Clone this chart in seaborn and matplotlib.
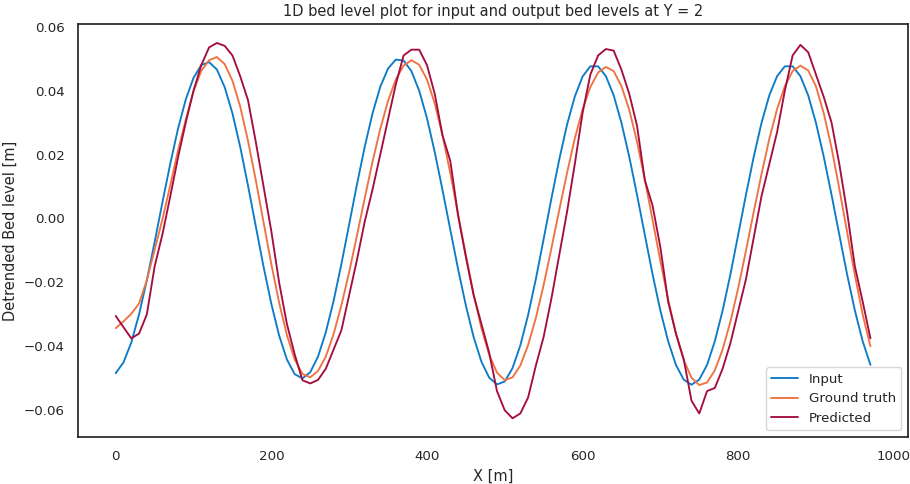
import numpy as np
import pandas as pd
import matplotlib
matplotlib.use("Agg")
import matplotlib.pyplot as plt
import seaborn as sns

x_m = list(range(0, 980, 10))

input_bed = [
    -0.0484, -0.0450, -0.0388, -0.0300, -0.0193, -0.0074, 0.0050, 0.0170, 0.0280, 0.0372,
    0.0440, 0.0480, 0.0489, 0.0466, 0.0411, 0.0329, 0.0224, 0.0103, -0.0024, -0.0151,
    -0.0267, -0.0366, -0.0441, -0.0487, -0.0500, -0.0481, -0.0432, -0.0356, -0.0258, -0.0143,
    -0.0019, 0.0106, 0.0224, 0.0328, 0.0412, 0.0469, 0.0497, 0.0494, 0.0461, 0.0400,
    0.0314, 0.0208, 0.0089, -0.0035, -0.0158, -0.0272, -0.0371, -0.0448, -0.0498, -0.0519,
    -0.0510, -0.0468, -0.0397, -0.0302, -0.0189, -0.0064, 0.0063, 0.0184, 0.0293, 0.0381,
    0.0444, 0.0476, 0.0476, 0.0445, 0.0385, 0.0299, 0.0193, 0.0074, -0.0051, -0.0175,
    -0.0288, -0.0384, -0.0458, -0.0504, -0.0520, -0.0504, -0.0458, -0.0384, -0.0288, -0.0175,
    -0.0051, 0.0074, 0.0193, 0.0299, 0.0385, 0.0445, 0.0476, 0.0476, 0.0445, 0.0385,
    0.0299, 0.0193, 0.0074, -0.0051, -0.0175, -0.0288, -0.0384, -0.0458,
]

ground_truth = [
    -0.0343, -0.0322, -0.0298, -0.0266, -0.0193, -0.0098, -0.0003, 0.0103, 0.0212, 0.0309,
    0.0398, 0.0462, 0.0495, 0.0505, 0.0483, 0.0431, 0.0350, 0.0243, 0.0120, -0.0012,
    -0.0143, -0.0263, -0.0365, -0.0441, -0.0486, -0.0497, -0.0477, -0.0432, -0.0362, -0.0272,
    -0.0168, -0.0054, 0.0063, 0.0177, 0.0280, 0.0368, 0.0435, 0.0478, 0.0495, 0.0481,
    0.0435, 0.0360, 0.0260, 0.0142, 0.0013, -0.0115, -0.0237, -0.0343, -0.0427, -0.0482,
    -0.0506, -0.0497, -0.0460, -0.0396, -0.0311, -0.0208, -0.0093, 0.0026, 0.0142, 0.0250,
    0.0341, 0.0411, 0.0457, 0.0474, 0.0461, 0.0414, 0.0340, 0.0240, 0.0122, -0.0005,
    -0.0133, -0.0254, -0.0360, -0.0443, -0.0498, -0.0521, -0.0513, -0.0475, -0.0410, -0.0323,
    -0.0218, -0.0101, 0.0021, 0.0139, 0.0249, 0.0342, 0.0414, 0.0461, 0.0478, 0.0463,
    0.0413, 0.0329, 0.0221, 0.0093, -0.0042, -0.0177, -0.0300, -0.0400,
]

predicted = [
    -0.0305, -0.0340, -0.0375, -0.0360, -0.0300, -0.0150, -0.0050, 0.0068, 0.0190, 0.0300,
    0.0400, 0.0480, 0.0535, 0.0549, 0.0540, 0.0510, 0.0445, 0.0370, 0.0240, 0.0100,
    -0.0040, -0.0200, -0.0330, -0.0425, -0.0506, -0.0516, -0.0505, -0.0470, -0.0410, -0.0350,
    -0.0240, -0.0130, -0.0010, 0.0090, 0.0200, 0.0310, 0.0420, 0.0510, 0.0528, 0.0528,
    0.0480, 0.0390, 0.0260, 0.0180, 0.0010, -0.0120, -0.0240, -0.0330, -0.0420, -0.0540,
    -0.0600, -0.0625, -0.0610, -0.0560, -0.0460, -0.0370, -0.0250, -0.0115, 0.0020, 0.0170,
    0.0330, 0.0450, 0.0510, 0.0530, 0.0525, 0.0465, 0.0390, 0.0290, 0.0120, 0.0040,
    -0.0090, -0.0260, -0.0360, -0.0440, -0.0570, -0.0610, -0.0540, -0.0530, -0.0470, -0.0390,
    -0.0290, -0.0190, -0.0060, 0.0070, 0.0170, 0.0270, 0.0400, 0.0510, 0.0543, 0.0520,
    0.0450, 0.0380, 0.0300, 0.0170, 0.0020, -0.0150, -0.0260, -0.0375,
]

series_names = ["Input", "Ground truth", "Predicted"]
colors = ["#0C7BC8", "#F07241", "#A50D3E"]

df = pd.DataFrame({
    "X": x_m * 3,
    "value": input_bed + ground_truth + predicted,
    "series": [series_names[0]] * len(x_m) + [series_names[1]] * len(x_m) + [series_names[2]] * len(x_m),
})

sns.set_theme(style="white", font_scale=0.88)
plt.rcParams["font.family"] = ["DejaVu Sans"]

fig, ax = plt.subplots(figsize=(9.1, 4.84), dpi=100)
fig.subplots_adjust(left=0.0857, right=0.998, top=0.950, bottom=0.097)

sns.lineplot(data=df, x="X", y="value", hue="series", palette=colors,
             hue_order=series_names, ax=ax, linewidth=1.35)

ax.set_title("1D bed level plot for input and output bed levels at Y = 2")
ax.set_xlabel("X [m]")
ax.set_ylabel("Detrended Bed level [m]")
ax.set_xticks([0, 200, 400, 600, 800, 1000])
ax.set_yticks([-0.06, -0.04, -0.02, 0.0, 0.02, 0.04, 0.06])
ax.legend(loc="lower right", title=None)

fig.savefig("out.png", dpi=100)
